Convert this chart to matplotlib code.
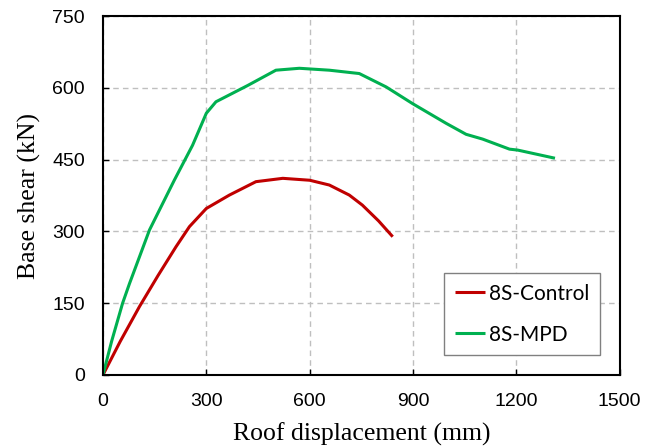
import numpy as np
import matplotlib
matplotlib.use("Agg")
import matplotlib.pyplot as plt

# Pushover curves
ctrl_disp = [0, 50, 106, 160, 212, 251, 300, 367, 444, 522, 600, 657, 715, 753, 800, 841]
ctrl_shear = [0, 70, 143, 208, 268, 310, 348, 376, 404, 411, 407, 397, 376, 355, 322, 289]

mpd_disp = [0, 25, 57, 77, 135, 207, 260, 300, 328, 420, 502, 570, 657, 744, 822,
            899, 996, 1054, 1102, 1180, 1204, 1312]
mpd_shear = [0, 70, 150, 191, 303, 407, 480, 547, 571, 605, 637, 641, 637, 630, 602,
             567, 526, 503, 493, 472, 470, 453]

labels = ["8S-Control", "8S-MPD"]
colors = ["#C00000", "#00B050"]

fig = plt.figure(figsize=(6.6, 4.48), dpi=100)
ax = fig.add_axes([0.156, 0.163, 0.783, 0.801])

ax.plot(ctrl_disp, ctrl_shear, color=colors[0], lw=2.2, label=labels[0], solid_capstyle="butt")
ax.plot(mpd_disp, mpd_shear, color=colors[1], lw=2.2, label=labels[1], solid_capstyle="butt")

ax.set_xlim(0, 1500)
ax.set_ylim(0, 750)
ax.set_xticks(np.arange(0, 1501, 300))
ax.set_yticks(np.arange(0, 751, 150))
ax.grid(True, color="#BFBFBF", linestyle=(0, (4, 3)), linewidth=1.0)
ax.set_axisbelow(True)
ax.tick_params(direction="in", length=4, width=1, labelsize=14, pad=13)
for lab in ax.get_xticklabels() + ax.get_yticklabels():
    lab.set_family("Liberation Sans")
for sp in ax.spines.values():
    sp.set_linewidth(1.5)

ax.set_xlabel("Roof displacement (mm)", family="Liberation Serif", fontsize=18.5, labelpad=9)
ax.set_ylabel("Base shear (kN)", family="Liberation Serif", fontsize=18.5, labelpad=8)

leg = ax.legend(loc="lower right", bbox_to_anchor=(1 - 20 / 517, 20 / 359), borderaxespad=0,
                fancybox=False, edgecolor="#808080", framealpha=1, handlelength=1.45,
                handletextpad=0.2, labelspacing=1.0, borderpad=0.5,
                prop={"family": "Lato", "size": 15})
leg.get_frame().set_linewidth(1.0)

plt.savefig("out.png", dpi=100)
